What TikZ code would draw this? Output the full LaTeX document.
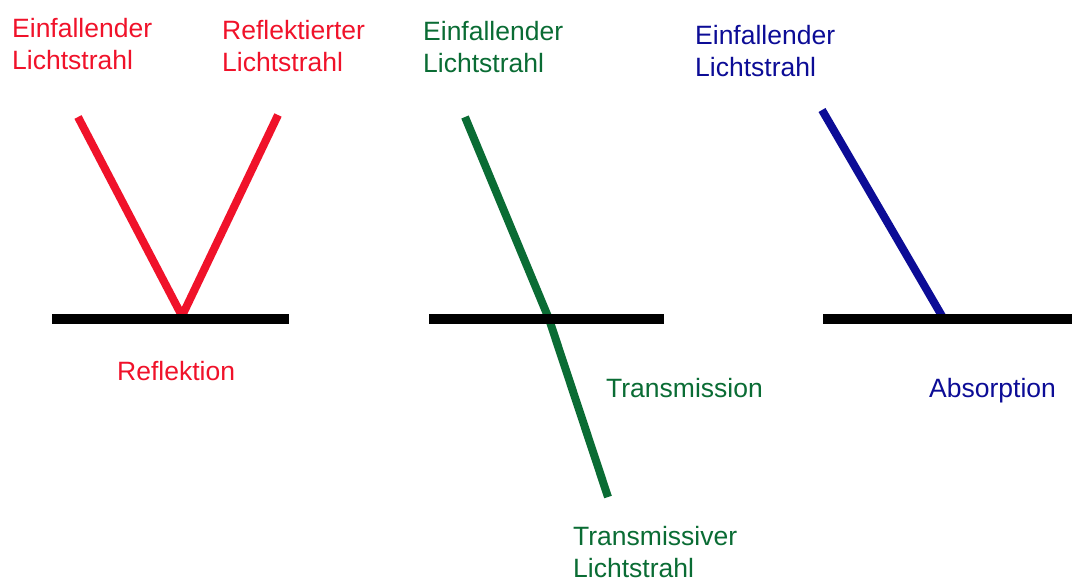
\documentclass[tikz,border=0pt]{standalone}
\usepackage{fontspec}
\setmainfont{Liberation Sans}
\definecolor{rred}{RGB}{240,18,42}
\definecolor{ggreen}{RGB}{10,108,52}
\definecolor{bblue}{RGB}{12,12,150}
\tikzset{
  ray/.style={line width=8pt, line cap=butt},
  surface/.style={line width=10pt, black, line cap=butt},
  lbl/.style={inner sep=0pt, anchor=base west, align=left,
    font=\fontsize{26.5}{32.5}\selectfont},
}
\begin{document}
\begin{tikzpicture}[x=1pt,y=-1pt]
\useasboundingbox (0,0) rectangle (1072,581);
% Reflection
\coordinate (rin) at (78,117);
\coordinate (rhit) at (182,316);
\coordinate (rout) at (278,115);
\coordinate (s1a) at (52,318.5);
\coordinate (s1b) at (289,318.5);
\draw[ray, rred, line join=round] (rin) -- (rhit) -- (rout);
\draw[surface] (s1a) -- (s1b);
% multi-line labels: position is the baseline of the last line
\node[lbl, text=rred] (rlab1) at (12,69.5) {Einfallender\\Lichtstrahl};
\node[lbl, text=rred] (rlab2) at (222,71.5) {Reflektierter\\Lichtstrahl};
\node[lbl, text=rred] (rlab3) at (117,380) {Reflektion};
% Transmission
\coordinate (gin) at (465,117);
\coordinate (ghit) at (549,319);
\coordinate (gout) at (608,497);
\coordinate (s2a) at (429,318.5);
\coordinate (s2b) at (664,318.5);
\draw[ray, ggreen, line join=round] (gin) -- (ghit) -- (gout);
\draw[surface] (s2a) -- (s2b);
\node[lbl, text=ggreen] (glab1) at (423,72.5) {Einfallender\\Lichtstrahl};
\node[lbl, text=ggreen] (glab2) at (606,397) {Transmission};
\node[lbl, text=ggreen] (glab3) at (573,577.5) {Transmissiver\\Lichtstrahl};
% Absorption
\coordinate (bin) at (822,110);
\coordinate (bhit) at (942,316);
\coordinate (s3a) at (823,318.5);
\coordinate (s3b) at (1072,318.5);
\draw[ray, bblue] (bin) -- (bhit);
\draw[surface] (s3a) -- (s3b);
\node[lbl, text=bblue] (blab1) at (695,76.5) {Einfallender\\Lichtstrahl};
\node[lbl, text=bblue] (blab2) at (929,397) {Absorption};
\end{tikzpicture}
\end{document}
